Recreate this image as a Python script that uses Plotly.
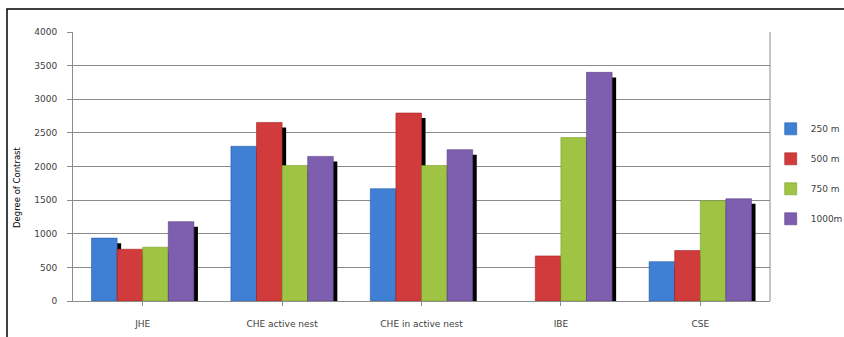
import plotly.graph_objects as go

categories = ["JHE", "CHE active nest", "CHE in active nest", "IBE", "CSE"]
series_names = ["250 m", "500 m", "750 m", "1000m"]
v250 = [935, 2300, 1670, None, 585]
v500 = [770, 2655, 2795, 670, 750]
v750 = [800, 2015, 2015, 2430, 1490]
v1000 = [1180, 2150, 2250, 3400, 1520]
y_ticks = [0, 500, 1000, 1500, 2000, 2500, 3000, 3500, 4000]

series_values = [v250, v500, v750, v1000]
colors = ["#3f7fd4", "#d23b3b", "#9fc443", "#7e5eae"]
edge_colors = ["#2a5ea8", "#a82424", "#7a9e2a", "#5c4088"]

W = 0.1836
x_idx = list(range(len(categories)))
font_family = "DejaVu Sans"

fig = go.Figure()
for i, (name, vals) in enumerate(zip(series_names, series_values)):
    off = (i - 2) * W
    # shadow
    fig.add_trace(go.Bar(
        x=x_idx, y=vals, base=-75, width=W, offset=off + 0.029,
        marker=dict(color="#000000", line=dict(width=0)),
        showlegend=False, hoverinfo="skip"))
    fig.add_trace(go.Bar(
        x=x_idx, y=vals, name=name, width=W, offset=off, legendgroup=name,
        marker=dict(color=colors[i], line=dict(color=edge_colors[i], width=0.6))))

fig.update_layout(
    width=844, height=337,
    margin=dict(l=73, r=74, t=32, b=36, autoexpand=False),
    barmode="overlay",
    paper_bgcolor="white", plot_bgcolor="white",
    font=dict(family=font_family, size=9, color="#404040"),
    legend=dict(x=1.001, y=0.694, xanchor="left", yanchor="top",
                font=dict(size=9, color="#404040"),
                tracegroupgap=11, bgcolor="rgba(0,0,0,0)"),
    xaxis=dict(range=[-0.5, 4.5], tickmode="array", tickvals=x_idx, ticktext=categories,
               showgrid=False, showline=True, linecolor="#8c8c8c", linewidth=1,
               ticks="outside", tickson="boundaries", ticklen=4, tickcolor="#8c8c8c",
               ticklabelstandoff=10, mirror=False),
    yaxis=dict(range=[0, 4000], tickvals=y_ticks, showgrid=True, gridcolor="#8a8a8a",
               gridwidth=1, showline=True, linecolor="#8c8c8c", linewidth=1,
               ticks="outside", ticklen=5, tickcolor="#8c8c8c", ticklabelstandoff=8,
               zeroline=False),
    shapes=[
        dict(type="line", xref="paper", yref="paper", x0=1, x1=1, y0=0, y1=1,
             line=dict(color="#8c8c8c", width=1)),
        dict(type="rect", xref="paper", yref="paper", x0=-0.0947, x1=1.3, y0=-0.4, y1=1.0855,
             line=dict(color="#000000", width=1.5), layer="above"),
    ],
    annotations=[
        dict(text="Degree of Contrast", xref="paper", yref="paper", x=-0.0803, y=0.424,
             textangle=-90, showarrow=False, font=dict(size=8.5, color="#000000"),
             xanchor="center", yanchor="middle"),
    ],
)

fig.write_html("out.html")
